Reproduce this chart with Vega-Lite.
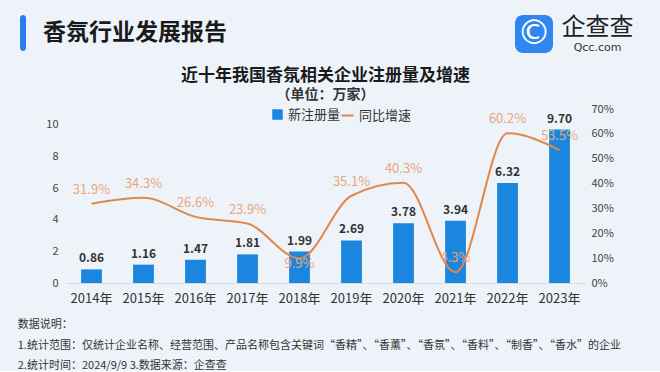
{
  "$schema": "https://vega.github.io/schema/vega-lite/v6.json",
  "background": "#eef3fa",
  "padding": {"left": 17, "top": 15, "right": 0, "bottom": 0},
  "config": {
    "font": "Noto Sans CJK SC",
    "view": {"stroke": null},
    "axis": {"grid": false, "ticks": false}
  },
  "spacing": 14,
  "vconcat": [
    {
      "spacing": 288,
      "hconcat": [
        {
          "spacing": 17,
          "hconcat": [
            {
              "width": 6,
              "height": 36,
              "data": {"values": [{}]},
              "mark": {"type": "rect", "color": "#2b7de9", "cornerRadius": 3},
              "encoding": {}
            },
            {
              "width": 184,
              "height": 36,
              "data": {"values": [{"header": "香氛行业发展报告"}]},
              "mark": {"type": "text", "fontSize": 23, "fontWeight": "bold", "color": "#1a1a1a", "baseline": "middle"},
              "encoding": {"text": {"field": "header"}}
            }
          ]
        },
        {
          "spacing": 7,
          "hconcat": [
            {
              "width": 38,
              "height": 38,
              "data": {"values": [{"glyph": "©"}]},
              "layer": [
                {"mark": {"type": "rect", "color": "#2f86ee", "cornerRadius": 8}, "encoding": {}},
                {
                  "mark": {"type": "text", "color": "white", "fontSize": 34, "font": "DejaVu Sans", "baseline": "middle"},
                  "encoding": {"text": {"field": "glyph"}}
                }
              ]
            },
            {
              "width": 75,
              "height": 38,
              "data": {"values": [{"name": "企查查", "site": "Qcc.com"}]},
              "layer": [
                {
                  "mark": {"type": "text", "color": "#222", "fontSize": 24, "baseline": "middle", "dy": -6},
                  "encoding": {"text": {"field": "name"}}
                },
                {
                  "mark": {"type": "text", "color": "#333", "fontSize": 11, "baseline": "middle", "dy": 14, "letterSpacing": 4, "font": "DejaVu Sans"},
                  "encoding": {"text": {"field": "site"}}
                }
              ]
            }
          ]
        }
      ]
    },
    {
      "spacing": 21,
      "hconcat": [
        {
          "width": 1,
          "height": 174,
          "data": {"values": [{}]},
          "mark": {"type": "point", "opacity": 0},
          "encoding": {}
        },
        {
          "width": 519,
          "height": 174,
          "title": {
            "text": "近十年我国香氛相关企业注册量及增速",
            "subtitle": "（单位：万家）",
            "anchor": "middle",
            "fontSize": 17,
            "fontWeight": "bold",
            "color": "#1a1a1a",
            "subtitleFontSize": 14,
            "subtitleFontWeight": "bold",
            "subtitleColor": "#333",
            "subtitlePadding": 3,
            "offset": 0
          },
          "data": {
            "values": [
              {"year": "2014年", "count": 0.86, "rate": 0.319},
              {"year": "2015年", "count": 1.16, "rate": 0.343},
              {"year": "2016年", "count": 1.47, "rate": 0.266},
              {"year": "2017年", "count": 1.81, "rate": 0.239},
              {"year": "2018年", "count": 1.99, "rate": 0.099},
              {"year": "2019年", "count": 2.69, "rate": 0.351},
              {"year": "2020年", "count": 3.78, "rate": 0.403},
              {"year": "2021年", "count": 3.94, "rate": 0.043},
              {"year": "2022年", "count": 6.32, "rate": 0.602},
              {"year": "2023年", "count": 9.70, "rate": 0.535}
            ]
          },
          "encoding": {
            "x": {
              "field": "year",
              "type": "ordinal",
              "sort": null,
              "scale": {"paddingInner": 0.6, "paddingOuter": 0.29},
              "axis": {
                "labelAngle": 0,
                "labelFontSize": 13,
                "labelColor": "#333",
                "labelPadding": 9,
                "domainColor": "#d5dbe5",
                "title": null
              }
            }
          },
          "layer": [
            {
              "encoding": {
                "y": {
                  "field": "count",
                  "type": "quantitative",
                  "scale": {"domain": [0, 11]},
                  "axis": {
                    "values": [0, 2, 4, 6, 8, 10],
                    "title": null,
                    "domain": false,
                    "labelFontSize": 11,
                    "labelColor": "#444",
                    "labelPadding": 8
                  }
                }
              },
              "layer": [
                {
                  "mark": {"type": "bar"},
                  "encoding": {
                    "fill": {
                      "datum": "新注册量",
                      "type": "nominal",
                      "scale": {"range": ["#1a86e0"]},
                      "legend": {
                        "orient": "none",
                        "legendX": 251,
                        "legendY": 93,
                        "direction": "horizontal",
                        "symbolType": "square",
                        "symbolSize": 110,
                        "labelFontSize": 13,
                        "labelColor": "#333",
                        "title": null
                      }
                    }
                  }
                },
                {
                  "mark": {"type": "text", "baseline": "bottom", "dy": -4, "fontSize": 12, "fontWeight": "bold", "color": "#333"},
                  "encoding": {"text": {"field": "count", "type": "quantitative", "format": ".2f"}}
                }
              ]
            },
            {
              "encoding": {
                "y": {
                  "field": "rate",
                  "type": "quantitative",
                  "scale": {"domain": [0, 0.7]},
                  "axis": {
                    "orient": "right",
                    "values": [0, 0.1, 0.2, 0.3, 0.4, 0.5, 0.6, 0.7],
                    "format": ".0%",
                    "title": null,
                    "domain": false,
                    "labelFontSize": 11,
                    "labelColor": "#444",
                    "labelPadding": 6
                  }
                }
              },
              "layer": [
                {
                  "mark": {"type": "line", "interpolate": "monotone", "strokeWidth": 2},
                  "encoding": {
                    "stroke": {
                      "datum": "同比增速",
                      "type": "nominal",
                      "scale": {"range": ["#e0874a"]},
                      "legend": {
                        "orient": "none",
                        "legendX": 320,
                        "legendY": 93,
                        "direction": "horizontal",
                        "symbolType": "stroke",
                        "symbolStrokeWidth": 2,
                        "symbolSize": 150,
                        "labelFontSize": 13,
                        "labelColor": "#333",
                        "title": null
                      }
                    }
                  }
                },
                {
                  "transform": [{"filter": "datum.year != '2018年'"}],
                  "mark": {"type": "text", "baseline": "middle", "dy": -14, "fontSize": 13, "color": "#e9a679"},
                  "encoding": {"text": {"field": "rate", "type": "quantitative", "format": ".1%"}}
                },
                {
                  "transform": [{"filter": "datum.year == '2018年'"}],
                  "mark": {"type": "text", "baseline": "middle", "dy": 6, "fontSize": 13, "color": "#e9a679"},
                  "encoding": {"text": {"field": "rate", "type": "quantitative", "format": ".1%"}}
                }
              ]
            }
          ],
          "resolve": {"scale": {"y": "independent"}}
        }
      ]
    },
    {
      "width": 1,
      "height": 0,
      "data": {"values": [{}]},
      "mark": {"type": "point", "opacity": 0},
      "encoding": {},
      "title": {
        "text": [
          "数据说明：",
          "1.统计范围：仅统计企业名称、经营范围、产品名称包含关键词“香精”、“香薰”、“香氛”、“香料”、“制香”、“香水”的企业",
          "2.统计时间：2024/9/9    3.数据来源：企查查"
        ],
        "orient": "bottom",
        "anchor": "start",
        "align": "left",
        "baseline": "top",
        "offset": 0,
        "dy": -21,
        "fontSize": 11,
        "fontWeight": "normal",
        "color": "#333",
        "lineHeight": 20.5
      }
    }
  ]
}
